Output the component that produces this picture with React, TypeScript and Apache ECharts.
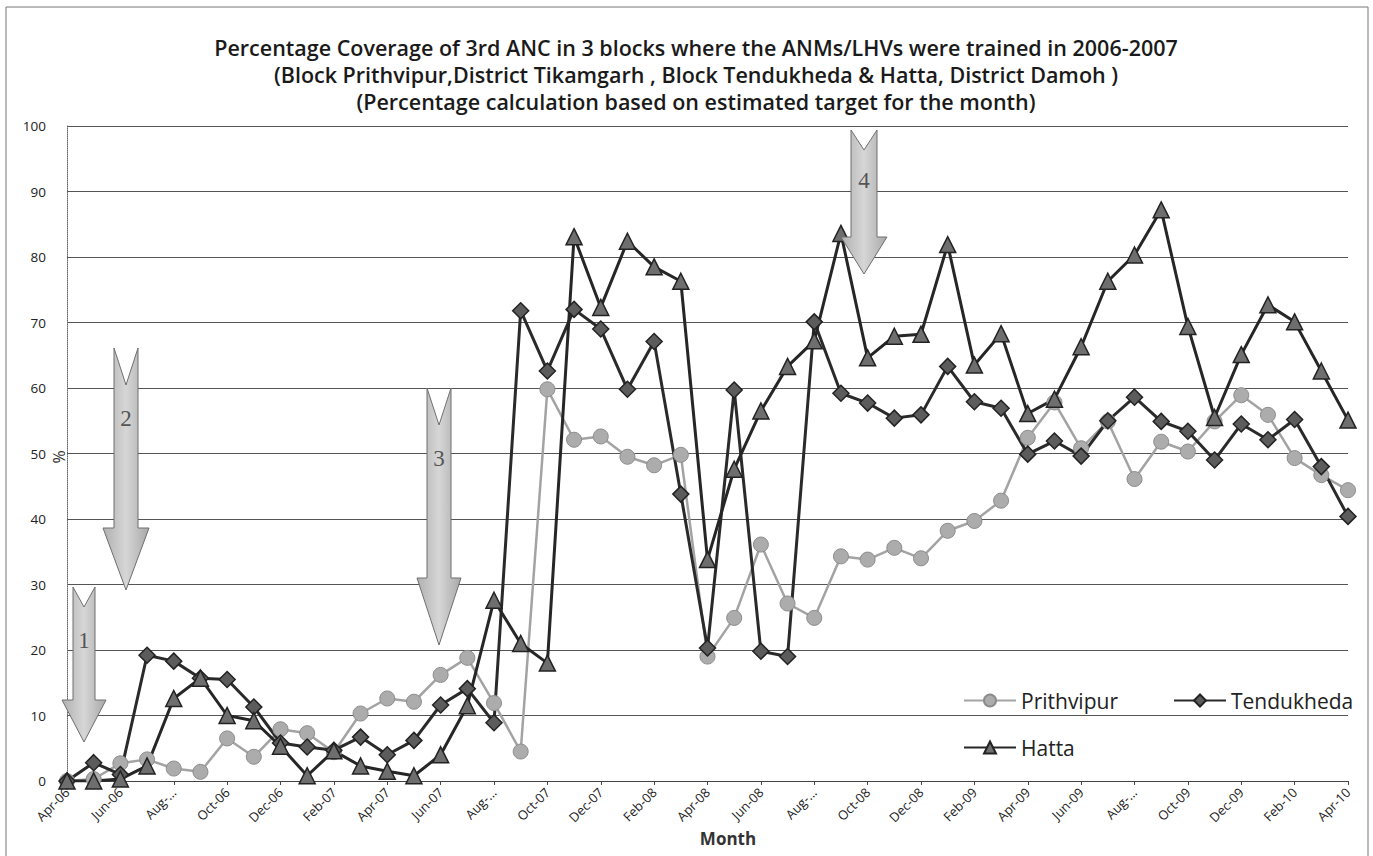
import React, { useEffect, useRef } from "react";
import * as echarts from "echarts";

// Months from Apr-06 to Apr-10
const months = [
  "Apr-06", "May-06", "Jun-06", "Jul-06", "Aug-06", "Sep-06", "Oct-06", "Nov-06", "Dec-06",
  "Jan-07", "Feb-07", "Mar-07", "Apr-07", "May-07", "Jun-07", "Jul-07", "Aug-07", "Sep-07",
  "Oct-07", "Nov-07", "Dec-07", "Jan-08", "Feb-08", "Mar-08", "Apr-08", "May-08", "Jun-08",
  "Jul-08", "Aug-08", "Sep-08", "Oct-08", "Nov-08", "Dec-08", "Jan-09", "Feb-09", "Mar-09",
  "Apr-09", "May-09", "Jun-09", "Jul-09", "Aug-09", "Sep-09", "Oct-09", "Nov-09", "Dec-09",
  "Jan-10", "Feb-10", "Mar-10", "Apr-10",
];

const prithvipur = [
  0, 0.3, 2.7, 3.3, 1.9, 1.4, 6.5, 3.7, 7.9, 7.3, 4.4, 10.3, 12.6, 12.1, 16.2, 18.8, 11.9, 4.5,
  59.8, 52.1, 52.6, 49.5, 48.2, 49.8, 19.0, 24.9, 36.1, 27.1, 24.9, 34.3, 33.8, 35.6, 34.0,
  38.2, 39.7, 42.8, 52.4, 57.8, 50.8, 54.9, 46.1, 51.8, 50.3, 54.9, 58.9, 55.9, 49.3, 46.7, 44.4,
];

const tendukheda = [
  0, 2.8, 1.0, 19.2, 18.3, 15.7, 15.5, 11.3, 5.8, 5.2, 4.7, 6.7, 4.0, 6.2, 11.6, 14.1, 8.9, 71.8,
  62.6, 72.0, 69.0, 59.8, 67.1, 43.8, 20.3, 59.7, 19.8, 19.0, 70.1, 59.2, 57.7, 55.4, 55.9,
  63.3, 57.9, 56.9, 49.9, 51.9, 49.6, 55.0, 58.6, 54.9, 53.4, 49.0, 54.5, 52.1, 55.2, 48.0, 40.4,
];

const hatta = [
  0, 0, 0.3, 2.3, 12.6, 15.7, 10.0, 9.2, 5.3, 0.8, 4.6, 2.3, 1.5, 0.8, 4.0, 11.5, 27.6, 21.0,
  18.0, 83.1, 72.3, 82.4, 78.5, 76.3, 33.8, 47.6, 56.5, 63.3, 67.2, 83.6, 64.6, 67.9, 68.2,
  81.9, 63.5, 68.3, 56.1, 58.3, 66.3, 76.3, 80.3, 87.2, 69.4, 55.5, 65.1, 72.7, 70.1, 62.6, 55.1,
];

const titleLines = [
  "Percentage Coverage of 3rd ANC in 3 blocks where the ANMs/LHVs were trained in 2006-2007",
  "(Block Prithvipur,District Tikamgarh , Block Tendukheda & Hatta, District Damoh )",
  "(Percentage calculation based on estimated target for the month)",
];

// Training markers: number, centre x, tail top, notch depth, head start, tip, shaft and head half widths
const trainingArrows = [
  { label: "1", cx: 84, top: 587, notch: 607, head: 700, tip: 742, shaft: 11, wing: 22, labelY: 640 },
  { label: "2", cx: 126, top: 348, notch: 385, head: 528, tip: 590, shaft: 12, wing: 23, labelY: 418 },
  { label: "3", cx: 439, top: 388, notch: 425, head: 578, tip: 645, shaft: 12, wing: 22, labelY: 458 },
  { label: "4", cx: 864, top: 130, notch: 150, head: 237, tip: 274, shaft: 13, wing: 23, labelY: 180 },
];

const FONT = "'Open Sans', 'Noto Sans', sans-serif";

function arrowGraphics() {
  const out: any[] = [];
  trainingArrows.forEach((a) => {
    const l = a.cx - a.shaft;
    const r = a.cx + a.shaft;
    out.push({
      type: "polygon",
      z: 100,
      shape: {
        points: [
          [l, a.top],
          [a.cx, a.notch],
          [r, a.top],
          [r, a.head],
          [a.cx + a.wing, a.head],
          [a.cx, a.tip],
          [a.cx - a.wing, a.head],
          [l, a.head],
        ],
      },
      style: {
        fill: new echarts.graphic.LinearGradient(0, 0, 1, 0, [
          { offset: 0, color: "#b0b0b0" },
          { offset: 0.5, color: "#d6d6d6" },
          { offset: 1, color: "#a8a8a8" },
        ]),
        stroke: "#6f6f6f",
        lineWidth: 1,
      },
    });
    out.push({
      type: "text",
      z: 101,
      x: a.cx,
      y: a.labelY,
      style: {
        text: a.label,
        font: "23px 'Liberation Serif', 'DejaVu Serif', serif",
        fill: "#555",
        align: "center",
        verticalAlign: "middle",
      },
    });
  });
  return out;
}

export default function App() {
  const ref = useRef<HTMLDivElement>(null);

  useEffect(() => {
    if (!ref.current) return;
    const chart = echarts.init(ref.current, undefined, { renderer: "svg" });

    const legendText = { fontFamily: FONT, fontSize: 21, color: "#222" };

    chart.setOption({
      animation: false,
      backgroundColor: "#ffffff",
      title: {
        text: titleLines.join("\n"),
        left: 691,
        textAlign: "center",
        top: 29,
        textStyle: {
          fontFamily: FONT,
          fontWeight: 600,
          fontSize: 21.5,
          lineHeight: 27,
          color: "#1a1a1a",
        },
      },
      grid: { left: 67, right: 25, top: 126, bottom: 75, containLabel: false },
      legend: [
        {
          data: ["Prithvipur"],
          left: 958,
          top: 685,
          itemWidth: 52,
          itemHeight: 15,
          textStyle: legendText,
        },
        {
          data: ["Tendukheda"],
          left: 1168,
          top: 685,
          itemWidth: 52,
          itemHeight: 15,
          textStyle: legendText,
        },
        {
          data: ["Hatta"],
          left: 958,
          top: 732,
          itemWidth: 52,
          itemHeight: 15,
          textStyle: legendText,
        },
      ],
      xAxis: {
        type: "category",
        data: months,
        boundaryGap: false,
        axisLine: { lineStyle: { color: "#444", width: 1 } },
        axisTick: { show: true, interval: 1, length: 4, lineStyle: { color: "#444" } },
        axisLabel: {
          interval: 1,
          rotate: 45,
          fontFamily: FONT,
          fontSize: 13,
          color: "#222",
          margin: 9,
          formatter: (v: string) => (v.startsWith("Aug") ? "Aug-..." : v),
        },
        splitLine: { show: false },
      },
      yAxis: {
        type: "value",
        min: 0,
        max: 100,
        interval: 10,
        axisLine: { show: true, lineStyle: { color: "#666", width: 1, type: "dotted" } },
        axisTick: { show: false },
        axisLabel: { fontFamily: FONT, fontSize: 13.5, color: "#222", margin: 21 },
        splitLine: { lineStyle: { color: "#555", width: 1 } },
      },
      series: [
        {
          name: "Prithvipur",
          type: "line",
          data: prithvipur,
          symbol: "circle",
          symbolSize: 15,
          lineStyle: { color: "#a3a3a3", width: 2.5 },
          itemStyle: { color: "#acacac", borderColor: "#8c8c8c", borderWidth: 1 },
        },
        {
          name: "Tendukheda",
          type: "line",
          data: tendukheda,
          symbol: "diamond",
          symbolSize: 16,
          lineStyle: { color: "#2a2a2a", width: 3 },
          itemStyle: { color: "#5c5c5c", borderColor: "#222", borderWidth: 1.5 },
        },
        {
          name: "Hatta",
          type: "line",
          data: hatta,
          symbol: "triangle",
          symbolSize: 16,
          lineStyle: { color: "#262626", width: 3 },
          itemStyle: { color: "#6e6e6e", borderColor: "#222", borderWidth: 1.5 },
        },
      ],
      graphic: [
        {
          type: "rect",
          z: -1,
          shape: { x: 6, y: 7, width: 1362, height: 860 },
          style: { fill: "none", stroke: "#777", lineWidth: 1 },
        },
        {
          type: "text",
          x: 728,
          y: 838,
          style: {
            text: "Month",
            font: `bold 17px ${FONT}`,
            fill: "#333",
            align: "center",
            verticalAlign: "middle",
          },
        },
        {
          type: "text",
          x: 59,
          y: 457,
          rotation: Math.PI / 2,
          style: {
            text: "%",
            font: `16px ${FONT}`,
            fill: "#333",
            align: "center",
            verticalAlign: "middle",
          },
        },
        ...arrowGraphics(),
      ],
    });

    return () => chart.dispose();
  }, []);

  return (
    <div
      ref={ref}
      style={{ position: "absolute", left: 0, top: 0, width: 1373, height: 856 }}
    />
  );
}
